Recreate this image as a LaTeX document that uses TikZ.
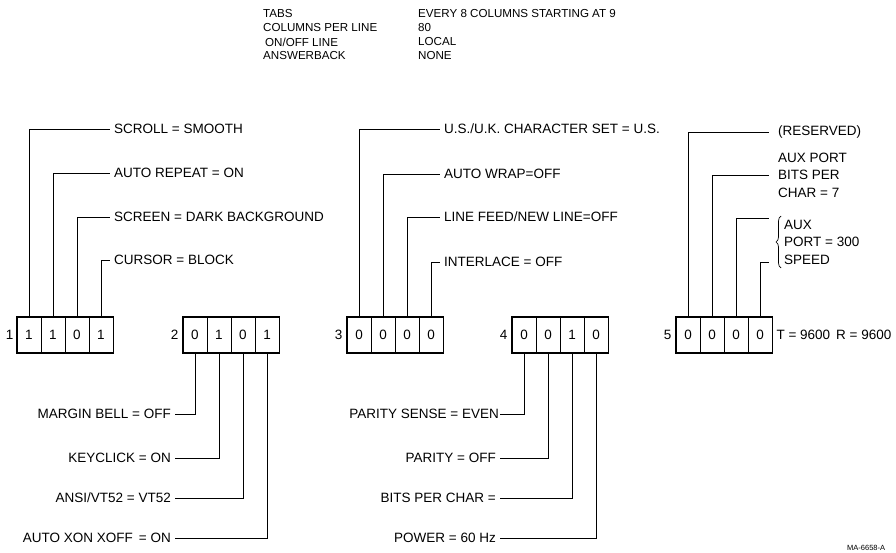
\documentclass[tikz,border=0pt]{standalone}
\usepackage{fontspec}
\setmainfont{Liberation Sans}
\usetikzlibrary{positioning, decorations.pathreplacing}

\begin{document}
\begin{tikzpicture}[
  x=1pt, y=-1pt,
  font=\fontsize{13.5}{17.5}\selectfont,
  every node/.style={inner sep=2pt},
  cell/.style ={draw, line width=0.7pt, minimum width=24pt, minimum height=35pt,
                inner sep=0pt},
  frame/.style={draw, line width=1.6pt},
  wire/.style ={line width=0.7pt},
  lbl/.style  ={anchor=west, align=left, inner xsep=4pt},
  rlbl/.style ={anchor=east, align=right, inner xsep=4pt},
  head/.style ={anchor=west, font=\fontsize{11.6}{14}\selectfont},
]
\useasboundingbox (0,0) rectangle (896,553);

% ---- Header: fixed settings ------------------------------------------------
\node[head] (tabs)   at (261,14) {TABS};
\node[head] (cols)   at (261,28) {COLUMNS PER LINE};
\node[head] (online) at (263,42) {ON/OFF LINE};
\node[head] (ansbk)  at (261,56) {ANSWERBACK};
\node[head] (tabsv)  at (416,14) {EVERY 8 COLUMNS STARTING AT 9};
\node[head] (colsv)  at (416,28) {80};
\node[head] (onlinev)at (416,42) {LOCAL};
\node[head] (ansbkv) at (416,56) {NONE};

% ---- Switch banks ----------------------------------------------------------
\foreach \v [count=\i] in {1,1,0,1}
  \node[cell] (a\i) at ({29+24*(\i-1)}, 335) {\v};
\foreach \v [count=\i] in {0,1,0,1}
  \node[cell] (b\i) at ({195+24*(\i-1)}, 335) {\v};
\foreach \v [count=\i] in {0,0,0,0}
  \node[cell] (c\i) at ({359+24*(\i-1)}, 335) {\v};
\foreach \v [count=\i] in {0,0,1,0}
  \node[cell] (d\i) at ({524+24*(\i-1)}, 335) {\v};
\foreach \v [count=\i] in {0,0,0,0}
  \node[cell] (e\i) at ({688+24*(\i-1)}, 335) {\v};

\foreach \g in {a,b,c,d,e}
  \draw[frame] (\g1.north west) rectangle (\g4.south east);

\node[left=1pt of a1] (n1) {1};
\node[left=2pt of b1] (n2) {2};
\node[left=2pt of c1] (n3) {3};
\node[left=2pt of d1] (n4) {4};
\node[left=2pt of e1] (n5) {5};
\node[right=2pt of e4] (speeds) {T = 9600\, R = 9600};

% ---- Bank 1 labels ---------------------------------------------------------
\node[lbl] (scroll)  at (110,129) {SCROLL = SMOOTH};
\node[lbl] (autorep) at (110,173) {AUTO REPEAT = ON};
\node[lbl] (screen)  at (110,217) {SCREEN = DARK BACKGROUND};
\node[lbl] (cursor)  at (110,260) {CURSOR = BLOCK};
\draw[wire] (a1.north) |- (scroll.west);
\draw[wire] (a2.north) |- (autorep.west);
\draw[wire] (a3.north) |- (screen.west);
\draw[wire] (a4.north) |- (cursor.west);

% ---- Bank 2 labels ---------------------------------------------------------
\node[rlbl] (bell)     at (175,414) {MARGIN BELL = OFF};
\node[rlbl] (keyclick) at (175,458) {KEYCLICK = ON};
\node[rlbl] (ansi)     at (175,498) {ANSI/VT52 = VT52};
\node[rlbl] (xon)      at (175,538) {AUTO XON XOFF\, = ON};
\draw[wire] (b1.south) |- (bell.east);
\draw[wire] (b2.south) |- (keyclick.east);
\draw[wire] (b3.south) |- (ansi.east);
\draw[wire] (b4.south) |- (xon.east);

% ---- Bank 3 labels ---------------------------------------------------------
\node[lbl] (charset)   at (440,129) {U.S./U.K. CHARACTER SET = U.S.};
\node[lbl] (autowrap)  at (440,174) {AUTO WRAP=OFF};
\node[lbl] (newline)   at (440,217) {LINE FEED/NEW LINE=OFF};
\node[lbl] (interlace) at (440,262) {INTERLACE = OFF};
\draw[wire] (c1.north) |- (charset.west);
\draw[wire] (c2.north) |- (autowrap.west);
\draw[wire] (c3.north) |- (newline.west);
\draw[wire] (c4.north) |- (interlace.west);

% ---- Bank 4 labels ---------------------------------------------------------
\node[rlbl, inner xsep=1pt] (parsense) at (500,414) {PARITY SENSE = EVEN};
\node[rlbl] (parity)   at (500,458) {PARITY = OFF};
\node[rlbl] (bitschar) at (500,498) {BITS PER CHAR =};
\node[rlbl] (power)    at (500,538) {POWER = 60 Hz};
\draw[wire] (d1.south) |- (parsense.east);
\draw[wire] (d2.south) |- (parity.east);
\draw[wire] (d3.south) |- (bitschar.east);
\draw[wire] (d4.south) |- (power.east);

% ---- Bank 5 labels ---------------------------------------------------------
\node[lbl, inner xsep=9pt] (reserved) at (769,132) {(RESERVED)};
\node[lbl, inner xsep=9pt] (auxbits)  at (769,175) {AUX PORT\\BITS PER\\CHAR = 7};
\node[lbl, inner sep=0pt]  (auxspeed) at (784,242) {AUX\\PORT = 300\\SPEED};
\coordinate (bracetop) at (769,218);
\coordinate (bracebot) at (769,262);
\draw[wire, decorate, decoration={brace, amplitude=5pt}]
  (781,268) -- (781,216);
\draw[wire] (e1.north) |- (reserved.west);
\draw[wire] (e2.north) |- (auxbits.west);
\draw[wire] (e3.north) |- (bracetop);
\draw[wire] (e4.north) |- (bracebot);

\node[anchor=west, font=\fontsize{7.5}{9}\selectfont] (tag) at (845,548) {MA-6658-A};
\end{tikzpicture}
\end{document}
